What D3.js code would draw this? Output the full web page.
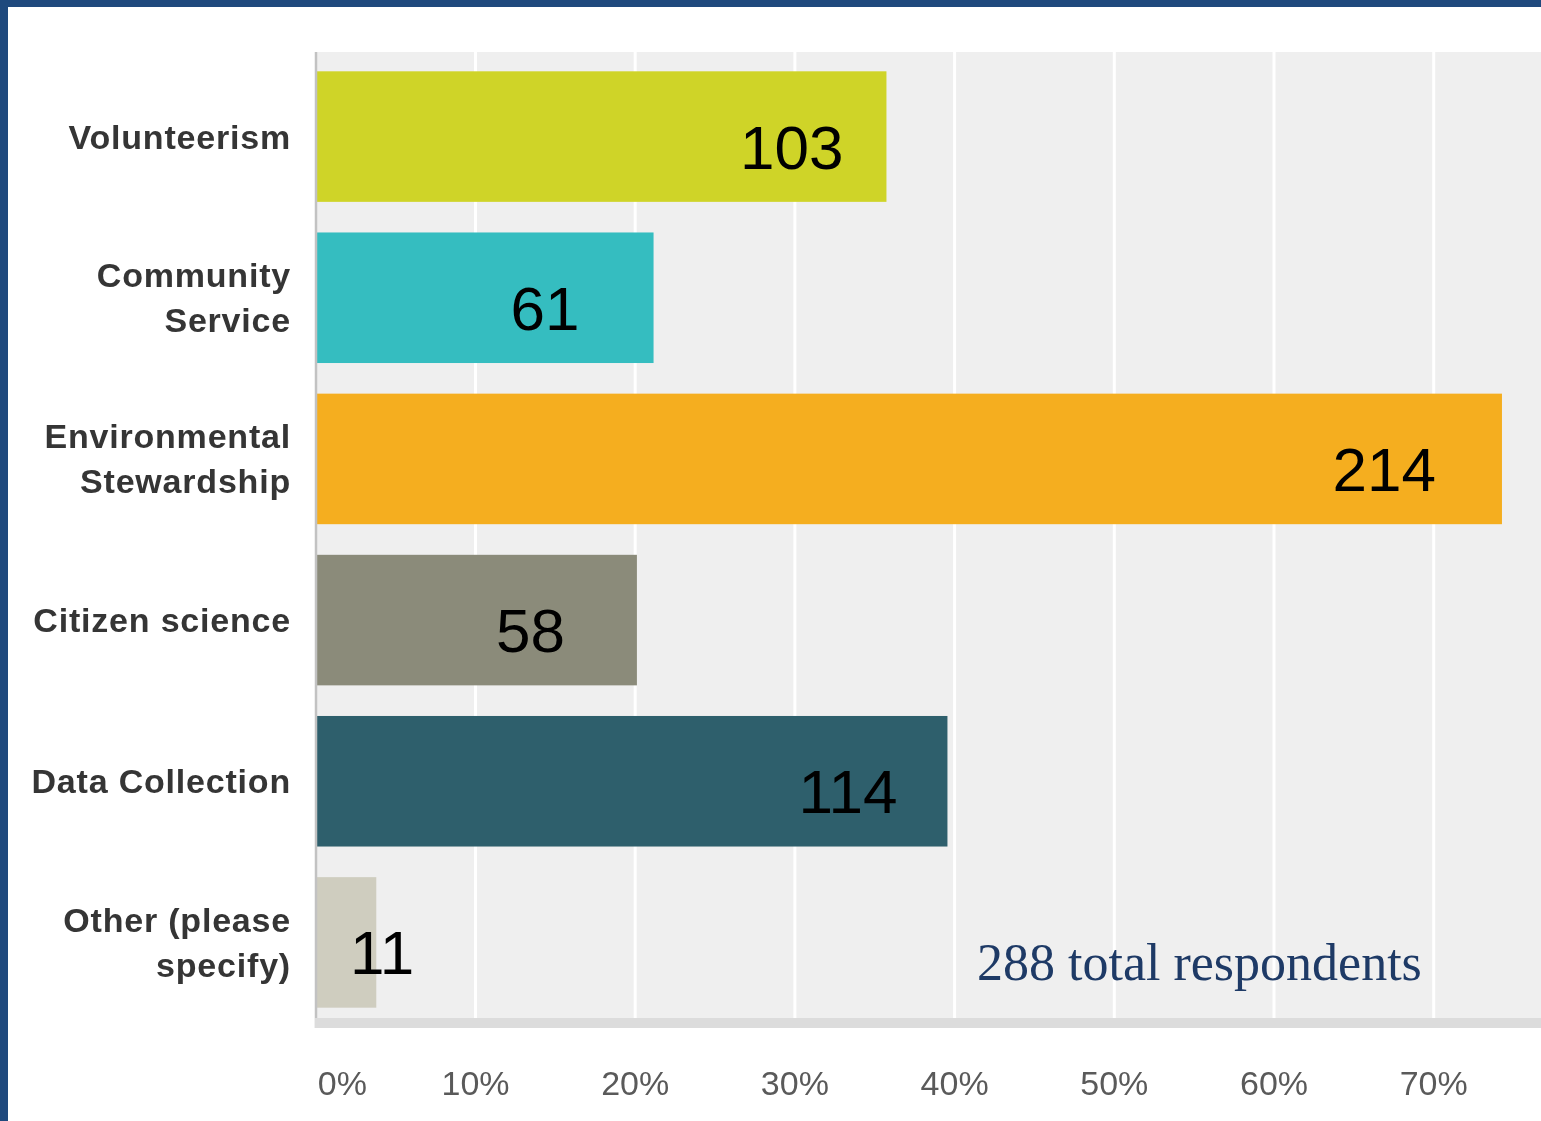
<!DOCTYPE html>
<html>
<head>
<meta charset="utf-8">
<script src="https://cdn.jsdelivr.net/npm/d3@7"></script>
<style>
  html, body { margin: 0; padding: 0; background: #ffffff; }
  svg { display: block; }
</style>
</head>
<body>
<svg id="chart" width="1541" height="1121"></svg>
<script>
// Survey responses: which activities respondents take part in
const categories = [
  "Volunteerism",
  "Community\nService",
  "Environmental\nStewardship",
  "Citizen science",
  "Data Collection",
  "Other (please\nspecify)"
];
const counts = [103, 61, 214, 58, 114, 11];
const totalRespondents = 288;
const barColors = ["#cfd428", "#35bdc0", "#f5ae1f", "#8b8b7a", "#2e5f6c", "#cfcdbf"];
const tickValues = [0, 0.1, 0.2, 0.3, 0.4, 0.5, 0.6, 0.7];
// how far each count label sits left of its bar end (px)
const labelInset = [43, 74, 66, 72, 50, -38];

const W = 1541, H = 1121;
const plot = { left: 315, top: 52, bottom: 1018 };

const svg = d3.select("#chart");

const defs = svg.append("defs");
defs.append("filter").attr("id", "soft")
  .append("feGaussianBlur").attr("stdDeviation", 0.7);

const x = d3.scaleLinear().domain([0, 1]).range([315.3, 315.3 + 1597]);
const y = d3.scaleBand()
  .domain(categories)
  .range([56, 1023])
  .paddingInner(0.19)
  .paddingOuter(0.095);

const share = counts.map(c => c / totalRespondents);

// plot background
svg.append("rect")
  .attr("x", plot.left).attr("y", plot.top)
  .attr("width", W - plot.left).attr("height", plot.bottom - plot.top)
  .attr("fill", "#efefef");

// vertical gridlines
svg.append("g")
  .attr("transform", `translate(0,${plot.bottom})`)
  .call(d3.axisBottom(x).tickValues(tickValues.slice(1).concat([0.8, 0.9]))
        .tickSize(-(plot.bottom - plot.top)).tickFormat(""))
  .call(g => g.select(".domain").remove())
  .call(g => g.selectAll("line").attr("stroke", "#ffffff").attr("stroke-width", 3));

// bars
svg.append("g").selectAll("rect")
  .data(categories)
  .join("rect")
  .attr("x", x(0))
  .attr("y", d => y(d))
  .attr("width", (d, i) => x(share[i]) - x(0))
  .attr("height", y.bandwidth())
  .attr("fill", (d, i) => barColors[i]);

// left axis line
svg.append("line")
  .attr("x1", plot.left + 1).attr("x2", plot.left + 1)
  .attr("y1", plot.top).attr("y2", 1028)
  .attr("stroke", "#c2c2c2").attr("stroke-width", 2.5);

// bottom baseline band
svg.append("rect")
  .attr("x", plot.left).attr("y", plot.bottom)
  .attr("width", W - plot.left).attr("height", 10)
  .attr("fill", "#dcdcdc");

// count labels
svg.append("g").selectAll("text")
  .data(categories)
  .join("text")
  .attr("x", (d, i) => x(share[i]) - labelInset[i])
  .attr("y", d => y(d) + y.bandwidth() / 2 + 32)
  .attr("text-anchor", "end")
  .attr("font-family", "Liberation Sans, Arial, sans-serif")
  .attr("font-size", 62)
  .attr("fill", "#000000")
  .text((d, i) => counts[i]);

// category axis
const yAxis = svg.append("g")
  .attr("transform", `translate(291,0)`)
  .attr("filter", "url(#soft)")
  .call(d3.axisLeft(y).tickSize(0).tickPadding(0).tickFormat(""))
  .call(g => g.select(".domain").remove());

yAxis.selectAll(".tick").each(function(d) {
  const lines = d.split("\n");
  const lh = 45;
  const t = d3.select(this).append("text")
    .attr("text-anchor", "end")
    .attr("font-family", "Liberation Sans, Arial, sans-serif")
    .attr("font-weight", "bold")
    .attr("font-size", 34)
    .attr("letter-spacing", 0.8)
    .attr("fill", "#353535");
  lines.forEach((ln, k) => {
    t.append("tspan")
      .attr("x", 0)
      .attr("y", (k - (lines.length - 1) / 2) * lh + 12)
      .text(ln);
  });
});

// percentage axis
svg.append("g")
  .attr("transform", `translate(0,1095)`)
  .attr("filter", "url(#soft)")
  .call(d3.axisBottom(x).tickValues(tickValues).tickSize(0).tickPadding(0)
        .tickFormat(d3.format(".0%")))
  .call(g => g.select(".domain").remove())
  .call(g => g.selectAll("text")
    .attr("dy", 0)
    .attr("y", 0)
    .attr("font-family", "Liberation Sans, Arial, sans-serif")
    .attr("font-size", 34)
    .attr("fill", "#5a5a5a")
    .attr("text-anchor", d => d === 0 ? "start" : "middle")
    .attr("dx", d => d === 0 ? 2 : 0));

// total respondents note
svg.append("text")
  .attr("x", 977).attr("y", 980)
  .attr("font-family", "Liberation Serif, 'Times New Roman', serif")
  .attr("font-size", 52)
  .attr("fill", "#1e3a66")
  .text(`${totalRespondents} total respondents`);

// frame
svg.append("rect").attr("x", 0).attr("y", 0).attr("width", W).attr("height", 7).attr("fill", "#1f497d");
svg.append("rect").attr("x", 0).attr("y", 0).attr("width", 8).attr("height", H).attr("fill", "#1f497d");
</script>
</body>
</html>
